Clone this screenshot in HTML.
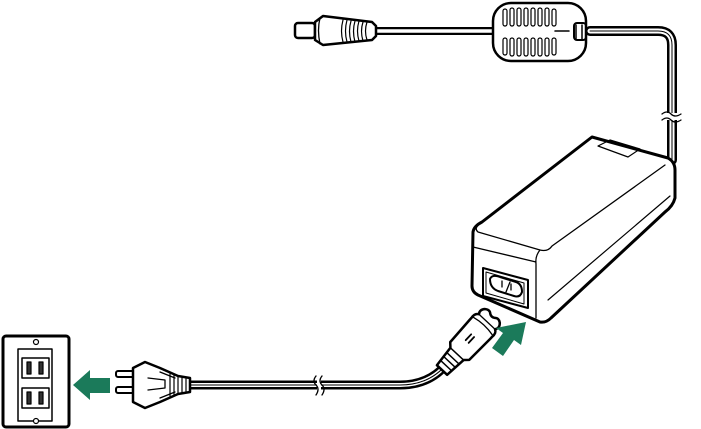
<!DOCTYPE html>
<html><head><style>html,body{margin:0;padding:0;background:#fff}svg{display:block}</style></head>
<body>
<svg width="701" height="429" viewBox="0 0 701 429" xmlns="http://www.w3.org/2000/svg" fill="none" stroke="#000" stroke-linejoin="round" stroke-linecap="round">
<!-- outlet -->
<rect x="3" y="336" width="66" height="91" rx="3" fill="#fff" stroke-width="3"/>
<rect x="18" y="349" width="34" height="72" stroke-width="1.5"/>
<circle cx="36" cy="342" r="2.5" stroke-width="1.2"/>
<circle cx="36" cy="421" r="2.5" stroke-width="1.2" fill="#fff"/>
<rect x="22" y="358" width="27" height="20" stroke-width="1.5"/>
<rect x="22" y="388" width="27" height="20" stroke-width="1.5"/>
<rect x="27" y="362" width="4" height="12" fill="#333" stroke-width="1.2"/>
<rect x="39" y="362" width="4" height="12" fill="#333" stroke-width="1.2"/>
<rect x="27" y="392" width="4" height="12" fill="#333" stroke-width="1.2"/>
<rect x="39" y="392" width="4" height="12" fill="#333" stroke-width="1.2"/>
<!-- arrow left -->
<polygon points="73,385 90,370 90,378 110,378 110,393 90,393 90,400" fill="#1b7a5a" stroke="none"/>
<!-- AC cord -->
<path d="M185,385 L400,385 Q428,385 445,366" stroke="#000" stroke-width="9"/>
<path d="M185,385 L400,385 Q428,385 445,366" stroke="#fff" stroke-width="4"/>
<path d="M185,385 L400,385 Q428,385 445,366" stroke="#000" stroke-width="1"/>
<rect x="317" y="379" width="4" height="12" fill="#fff" stroke="none"/>
<path d="M316,376 q-4,5 0,9 q4,4 0,10 M322,376 q-4,5 0,9 q4,4 0,10" stroke-width="1.3"/>
<!-- AC plug -->
<rect x="116" y="371" width="18" height="6" rx="2" fill="#fff" stroke-width="2"/>
<rect x="116" y="387" width="18" height="6" rx="2" fill="#fff" stroke-width="2"/>
<path d="M133,368 L145,362 L160,368 L178,376 L190,378 L190,392 L178,394 L160,402 L145,408 L133,402 Z" fill="#fff" stroke-width="2.5"/>
<path d="M160,372 L175,378 M160,398 L175,392 M148,378 L165,380 L165,388 L148,390" stroke-width="1.3"/>
<path d="M170,374 l0,22 M174,375 l0,20 M178,376 l0,18 M182,377 l0,16 M186,378 l0,14" stroke-width="1.2"/>
<!-- IEC connector -->
<g transform="translate(442,370) rotate(-47)">
<path d="M0,-7 L22,-9 L26,-13 L56,-14 L58,-14 Q64,-15 66,-11 Q70,-14 74,-10 Q77,-6 74,-3 Q72,0 74,3 Q77,6 74,10 Q70,14 66,11 Q64,15 58,14 L56,14 L26,13 L22,9 L0,7 Z" fill="#fff" stroke-width="2.5"/>
<path d="M6,-7 v14 M11,-8 v16 M16,-8 v16 M22,-9 v18" stroke-width="1.5"/>
<path d="M38,-3 h8 M38,1 h8" stroke-width="1.8"/>
<path d="M60,-13 Q63,0 60,13 M66,-11 v22" stroke-width="1.3"/>
</g>
<!-- arrow up-right -->
<polygon points="526,322 521,345 514,340 503,356 492,348 503,333 496,328" fill="#1b7a5a" stroke="none"/>
<!-- cord to DC -->
<path d="M672,160 L672,45 Q672,31 658,31 L590,31" stroke="#000" stroke-width="10"/>
<path d="M672,160 L672,45 Q672,31 658,31 L590,31" stroke="#fff" stroke-width="5"/>
<path d="M672,160 L672,45 Q672,31 658,31 L590,31" stroke="#000" stroke-width="1"/>
<rect x="664" y="113" width="16" height="7" fill="#fff" stroke="none"/>
<path d="M662,114 q5,-4 9,0 q4,4 10,0 M662,120 q5,-4 9,0 q4,4 10,0" stroke-width="1.3"/>
<path d="M375,31 L495,31" stroke="#000" stroke-width="8"/>
<path d="M375,31 L495,31" stroke="#fff" stroke-width="3.5"/>
<!-- ferrite -->
<rect x="493" y="3" width="93" height="58" rx="18" fill="#fff" stroke-width="2.5"/>
<g stroke-width="1.2">
<rect x="503" y="9" width="4" height="17" rx="2"/><rect x="510" y="8" width="4" height="18" rx="2"/><rect x="517" y="8" width="4" height="18" rx="2"/><rect x="524" y="8" width="4" height="18" rx="2"/><rect x="531" y="8" width="4" height="18" rx="2"/><rect x="538" y="8" width="4" height="18" rx="2"/><rect x="545" y="8" width="4" height="18" rx="2"/><rect x="552" y="9" width="4" height="17" rx="2"/>
<rect x="503" y="38" width="4" height="17" rx="2"/><rect x="510" y="38" width="4" height="18" rx="2"/><rect x="517" y="38" width="4" height="18" rx="2"/><rect x="524" y="38" width="4" height="18" rx="2"/><rect x="531" y="38" width="4" height="18" rx="2"/><rect x="538" y="38" width="4" height="18" rx="2"/><rect x="545" y="38" width="4" height="18" rx="2"/><rect x="552" y="38" width="4" height="17" rx="2"/>
</g>
<path d="M555,31 h14 M576,25 v14 M582,25 v14" stroke-width="1.5"/>
<rect x="574" y="23" width="12" height="17" rx="3" stroke-width="2"/>
<!-- DC plug -->
<rect x="295" y="23" width="20" height="15" rx="3" fill="#fff" stroke-width="2.5"/>
<path d="M315,22 L323,16 L372,22 L376,26 L376,36 L372,40 L323,45 L315,40 Z" fill="#fff" stroke-width="2.5"/>
<path d="M320,18 q-3,12 0,26" stroke-width="1.3"/>
<g stroke-width="1.2"><path d="M343,20 q-3,11 0,22 M347,20 q-3,11 0,22 M351,21 q-3,10 0,21 M355,21 q-3,10 0,21 M359,21 q-3,10 0,20 M363,22 q-3,9 0,19 M367,22 q-3,9 0,18"/></g>
<!-- adapter box -->
<path d="M473,232 Q474,226 482,222 L592,137 L668,158 Q675,162 675,170 L675,198 Q673,206 665,212 L551,318 Q546,323 540,322 L478,295 Q472,292 472,286 Z" fill="#fff" stroke-width="3"/>
<path d="M482,222 Q473,228 478,232 L540,250 Q548,252 552,246 L665,165 M540,250 Q535,256 536,264 L536,318 M473,247 L536,262" stroke-width="1.3"/>
<path d="M548,300 L670,196" stroke-width="1.2"/>
<path d="M598,146 L610,140 L640,149 L628,157 Z" stroke-width="1.2"/>
<!-- inlet -->
<path d="M483,268 L528,280 L528,308 L483,296 Z" stroke-width="2"/>
<path d="M486,272 L524,283 L524,304 L486,293 Z" stroke-width="1"/>
<path d="M490,279 Q492,274 500,277 L516,282 Q522,284 522,292 Q520,298 514,296 L498,291 Q490,288 490,279 Z" stroke-width="2"/>
<path d="M502,281 v6 M511,284 v6 M506,292 l4,-10" stroke-width="1.3"/>
</svg>
</body></html>
